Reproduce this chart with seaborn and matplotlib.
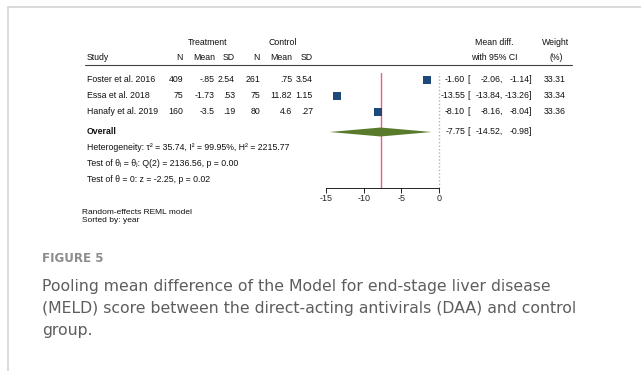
import numpy as np
import pandas as pd
import seaborn as sns
import matplotlib.pyplot as plt
from matplotlib import transforms
from matplotlib.lines import Line2D

# study level data
studies = ["Foster et al. 2016", "Essa et al. 2018", "Hanafy et al. 2019"]
t_n = [409, 75, 160]
t_mean = [-0.85, -1.73, -3.5]
t_sd = [2.54, 0.53, 0.19]
c_n = [261, 75, 80]
c_mean = [0.75, 11.82, 4.6]
c_sd = [3.54, 1.15, 0.27]
md = [-1.60, -13.55, -8.10]
md_lo = [-2.06, -13.84, -8.16]
md_hi = [-1.14, -13.26, -8.04]
weight = [33.31, 33.34, 33.36]

# pooled estimate
overall = -7.75
overall_lo = -14.52
overall_hi = -0.98

xticks = [-15, -10, -5, 0]

notes = [
    "Heterogeneity: τ² = 35.74, I² = 99.95%, H² = 2215.77",
    "Test of θᵢ = θⱼ: Q(2) = 2136.56, p = 0.00",
    "Test of θ = 0: z = -2.25, p = 0.02",
]
footer = ["Random-effects REML model", "Sorted by: year"]
caption = [
    "Pooling mean difference of the Model for end-stage liver disease",
    "(MELD) score between the direct-acting antivirals (DAA) and control",
    "group.",
]


def stata(v):
    # stata style numbers: drop the leading zero
    s = f"{v:g}"
    if s.startswith("-0."):
        return "-" + s[2:]
    if s.startswith("0."):
        return s[1:]
    return s


W, H = 641, 371
sns.set_theme(style="white")
plt.rcParams['font.family'] = ['Liberation Sans', 'DejaVu Sans']

fig = plt.figure(figsize=(W / 100, H / 100), dpi=100)
px = transforms.Affine2D().scale(1 / W, -1 / H).translate(0, 1) + fig.transFigure

# plot panel: x -15 -> 326px, 0 -> 439px ; rows 16px apart
top, bot = 73, 188
ax = fig.add_axes([326 / W, 1 - bot / H, 113 / W, (bot - top) / H])
row0 = 80
step = 16
ax.set_ylim((bot - row0) / step, (top - row0) / step)
ax.set_xlim(-15, 0)

df = pd.DataFrame({"study": studies, "md": md, "lo": md_lo, "hi": md_hi,
                   "w": weight, "row": np.arange(len(studies))})
ov_row = (132 - row0) / step

ax.axvline(0, color="#b4b4b4", lw=1.0, ls=(0, (1, 1.5)), clip_on=False)
ax.axvline(overall, color="#e8607e", lw=1.0)
ax.hlines(df["row"], df["lo"], df["hi"], color="#1d4a78", lw=0.8)
sns.scatterplot(data=df, x="md", y="row", size="w", sizes=(40, 40), marker="s",
                color="#1d4a78", linewidth=0, legend=False, ax=ax, zorder=3)
dh = 0.28
ax.fill([overall_lo, overall, overall_hi, overall],
        [ov_row, ov_row - dh, ov_row, ov_row + dh], color="#5a7a2b", lw=0, zorder=3)

sns.despine(ax=ax, left=True, top=True, right=True)
ax.spines["bottom"].set_linewidth(0.6)
ax.spines["bottom"].set_color("black")
ax.set_xticks(xticks)
ax.set_xticklabels([str(t) for t in xticks])
ax.set_yticks([])
ax.set_xlabel("")
ax.set_ylabel("")
ax.tick_params(axis="x", direction="out", length=3.5, width=0.6, color="black",
               labelsize=6.5, pad=1.0, bottom=True)
ax.patch.set_alpha(0)

fs = 6.3
lift = transforms.ScaledTranslation(0, 1.5 / 100, fig.dpi_scale_trans)
rowt = transforms.blended_transform_factory(px, ax.transData)


def t(x, y, s, ha="left", tr=px, **kw):
    fig.text(x, y, s, ha=ha, va="center_baseline", transform=tr + lift,
             fontsize=kw.pop("fontsize", fs), color=kw.pop("color", "#111111"), **kw)


# header
t(208, 43, "Treatment", ha="center")
t(283, 43, "Control", ha="center")
t(494, 43, "Mean diff.", ha="center")
t(556, 43, "Weight", ha="center")
t(87, 58, "Study")
for x, s in [(183, "N"), (215, "Mean"), (235, "SD"), (260, "N"), (292, "Mean"), (313, "SD")]:
    t(x, 58, s, ha="right")
t(494, 58, "with 95% CI", ha="center")
t(556, 58, "(%)", ha="center")
fig.add_artist(Line2D([85, 572], [65, 65], transform=px, color="#444444", lw=0.8))

# mean diff column positions (right edges)
x_est, x_brk, x_lo, x_hi, x_w = 465, 467.5, 503, 532, 566

# study rows
for i in range(len(studies)):
    t(87, i, studies[i], tr=rowt)
    cols = [(183, str(t_n[i])), (215, stata(t_mean[i])), (235, stata(t_sd[i])),
            (260, str(c_n[i])), (292, stata(c_mean[i])), (313, stata(c_sd[i])),
            (x_est, f"{md[i]:.2f}"), (x_lo, f"{md_lo[i]:.2f},"), (x_hi, f"{md_hi[i]:.2f}]"),
            (x_w, f"{weight[i]:.2f}")]
    for x, s in cols:
        t(x, i, s, ha="right", tr=rowt)
    t(x_brk, i, "[", tr=rowt)

t(87, ov_row, "Overall", tr=rowt, fontweight="bold")
t(x_est, ov_row, f"{overall:.2f}", ha="right", tr=rowt)
t(x_brk, ov_row, "[", tr=rowt)
t(x_lo, ov_row, f"{overall_lo:.2f},", ha="right", tr=rowt)
t(x_hi, ov_row, f"{overall_hi:.2f}]", ha="right", tr=rowt)

for y, s in zip([148, 164, 180], notes):
    t(87, y, s)
for y, s in zip([213, 221.5], footer):
    t(82, y, s, fontsize=6.0)

# caption block
t(42, 258, "FIGURE 5", fontsize=8.6, color="#8c8c8c", fontweight="bold", family=["DejaVu Sans"])
for y, s in zip([286, 308.5, 331], caption):
    t(42, y, s, fontsize=11.3, color="#5e5e5e", family=["DejaVu Sans"])

# card border
fig.add_artist(Line2D([8, W], [7, 7], transform=px, color="#d4d4d4", lw=1.2))
fig.add_artist(Line2D([8, 8], [7, H], transform=px, color="#d4d4d4", lw=1.2))

fig.savefig("out.png", dpi=100, facecolor="white")
